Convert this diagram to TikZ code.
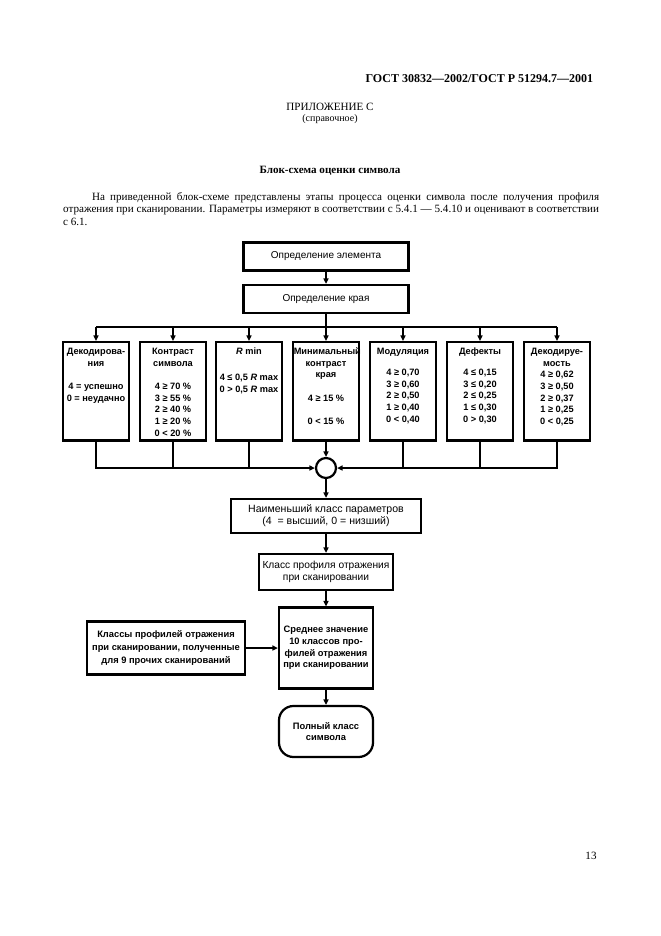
\documentclass[tikz,border=0pt]{standalone}
\usepackage{fontspec}
\setmainfont{Liberation Serif}
\newfontfamily\diagfont{Liberation Sans}
\usetikzlibrary{arrows.meta,positioning}

\tikzset{
  arr/.style={-{Triangle[length=5pt,width=4.5pt]}},
  plainbox/.style={draw, line width=2pt, align=center, inner sep=1pt,
    font=\diagfont\fontsize{9}{11}\selectfont},
  boldbox/.style={plainbox, font=\diagfont\bfseries\fontsize{8.4}{10.5}\selectfont},
  parambox/.style={draw, line width=2pt, anchor=north, minimum width=59.4pt,
    inner xsep=0.7pt, inner ysep=1.5pt, font=\diagfont\bfseries\fontsize{8.3}{10.5}\selectfont},
  termbox/.style={boldbox, rounded corners=13pt, minimum width=84.6pt, minimum height=45.9pt},
}
\newcommand{\ptext}[1]{\parbox[t][85.5pt][t]{58pt}{\centering\rule{0pt}{9.5pt}#1}}

\begin{document}
\begin{tikzpicture}[x=0.9pt,y=-0.9pt,line width=2pt]
    \useasboundingbox (0,0) rectangle (661,936);

    % Page text
    \node[anchor=base east, font=\bfseries\fontsize{10.8}{13}\selectfont] (gost) at (598,82) {ГОСТ 30832—2002/ГОСТ Р 51294.7—2001};
    \node[anchor=base, font=\fontsize{10}{12}\selectfont] (pril) at (330,110) {ПРИЛОЖЕНИЕ С};
    \node[anchor=base, font=\fontsize{9}{11}\selectfont] (sprav) at (330,121) {(справочное)};
    \node[anchor=base, font=\bfseries\fontsize{10}{12}\selectfont] (title) at (330,173) {Блок-схема оценки символа};
    \node[anchor=north west, inner sep=0pt, text width=482.4pt, align=justify,
      font=\fontsize{10}{11.3}\selectfont] (intro) at (62,191) {\hspace*{26pt}На приведенной блок-схеме представлены этапы процесса оценки символа после получения профиля\linebreak
      отражения при сканировании. Параметры измеряют в соответствии с 5.4.1~— 5.4.10 и оценивают в соответствии\linebreak
      с 6.1.};
    \node[anchor=base, font=\fontsize{10}{12}\selectfont] (page) at (591,859) {13};

    % Element and edge determination
    \node[plainbox, minimum width=148.5pt, minimum height=25.2pt] (elem) at (326,256.5) {Определение элемента};
    \node[plainbox, minimum width=148.5pt, minimum height=25.2pt] (kraj) at (326,299) {Определение края};
    \draw[arr] (elem) -- (kraj);
    \coordinate (topbus) at (326,327);

    % Parameter boxes
    \node[parambox] (dekod) at (96,341) {\ptext{Декодирова-\\ния\\[10.5pt]4 = успешно\\0 = неудачно}};
    \node[parambox] (kontr) at (173,341) {\ptext{Контраст\\символа\\[10.5pt]4 ≥ 70 \%\\3 ≥ 55 \%\\2 ≥ 40 \%\\1 ≥ 20 \%\\0 < 20 \%}};
    \node[parambox] (rmin) at (249,341) {\ptext{\textit{R} min\\[13pt]4 ≤ 0,5 \textit{R} max\\0 > 0,5 \textit{R} max}};
    \node[parambox] (minkr) at (326,341) {\ptext{Минимальный\\контраст\\края\\[10.5pt]4 ≥ 15 \%\\[10.5pt]0 < 15 \%}};
    \node[parambox] (modul) at (403,341) {\ptext{Модуляция\\[8.5pt]4 ≥ 0,70\\3 ≥ 0,60\\2 ≥ 0,50\\1 ≥ 0,40\\0 < 0,40}};
    \node[parambox] (defek) at (480,341) {\ptext{Дефекты\\[8.5pt]4 ≤ 0,15\\3 ≤ 0,20\\2 ≤ 0,25\\1 ≤ 0,30\\0 > 0,30}};
    \node[parambox] (dekodir) at (557,341) {\ptext{Декодируе-\\мость\\4 ≥ 0,62\\3 ≥ 0,50\\2 ≥ 0,37\\1 ≥ 0,25\\0 < 0,25}};

    % Distribution line
    \draw (kraj.south) -- (topbus);
    \draw (topbus -| dekod.north) -- (topbus -| dekodir.north);
    \draw[arr] (topbus -| dekod.north) -- (dekod.north);
    \draw[arr] (topbus -| kontr.north) -- (kontr.north);
    \draw[arr] (topbus -| rmin.north) -- (rmin.north);
    \draw[arr] (topbus) -- (minkr.north);
    \draw[arr] (topbus -| modul.north) -- (modul.north);
    \draw[arr] (topbus -| defek.north) -- (defek.north);
    \draw[arr] (topbus -| dekodir.north) -- (dekodir.north);

    % Collecting line
    \node[circle, draw, minimum size=18pt, inner sep=0pt] (sum) at (326,468) {};
    \draw[arr] (dekod.south) |- (sum.west);
    \draw (kontr.south) -- (kontr.south |- sum);
    \draw (rmin.south) -- (rmin.south |- sum);
    \draw[arr] (minkr.south) -- (sum.north);
    \draw (modul.south) -- (modul.south |- sum);
    \draw (defek.south) -- (defek.south |- sum);
    \draw[arr] (dekodir.south) |- (sum.east);

    % Overall grade
    \node[plainbox, minimum width=171pt, minimum height=30.6pt, font=\diagfont\fontsize{9.5}{11}\selectfont] (naim) at (326,516) {Наименьший класс параметров\\(4\ \ = высший, 0 = низший)};
    \draw[arr] (sum) -- (naim);
    \node[plainbox, minimum width=120.6pt, minimum height=32.4pt, font=\diagfont\fontsize{9.2}{11}\selectfont] (klass) at (326,572) {Класс профиля отражения\\при сканировании};
    \draw[arr] (naim) -- (klass);
    \node[boldbox, minimum width=84.6pt, minimum height=72.9pt] (sred) at (326,648) {Среднее значение\\10 классов про-\\филей отражения\\при сканировании};
    \draw[arr] (klass) -- (sred);
    \node[boldbox, minimum width=142.2pt, minimum height=47.7pt, font=\diagfont\bfseries\fontsize{8.4}{11.5}\selectfont] (prochie) at (166,648) {Классы профилей отражения\\при сканировании, полученные\\для 9 прочих сканирований};
    \draw[arr] (prochie) -- (sred);
    \node[termbox] (polny) at (326,731.5) {Полный класс\\символа};
    \draw[arr] (sred) -- (polny);
\end{tikzpicture}
\end{document}
